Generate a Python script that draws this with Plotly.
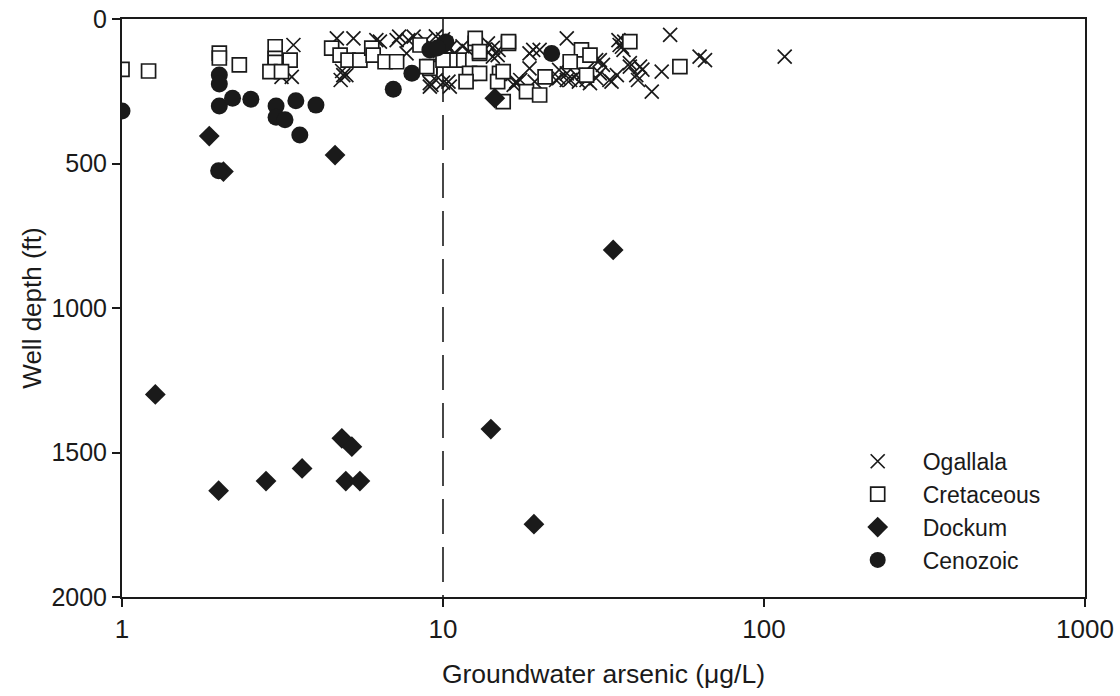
import plotly.graph_objects as go

# Ogallala (x = arsenic ug/L, y = depth ft)
ogallala_as = [3.42, 3.38, 3.14, 4.67, 5.26, 4.89, 4.85, 6.36, 7.17, 7.8, 9.2, 10.0,
               9.1, 10.5, 14.3, 16.9, 24.3, 35.2, 51, 63, 65.5, 116, 44.7, 48, 41.1, 40,
               41.8, 36.1, 36.5, 34.8, 33.5, 38.2, 31.5, 30, 30, 28, 26, 24.3, 23, 22.5,
               20, 18.6, 18.6, 16.9, 19.3, 14.9, 14.3, 9.5, 10.4, 13.8, 19.1, 17.4, 16.6,
               23, 24.9, 26.5, 28.7, 30.8, 33, 38.2, 40.5, 36.7, 35.5, 30.8, 27.3, 24.3,
               9.5, 10.0, 10.2, 10.5, 9.8, 10.8, 11.5, 12.0, 8.8, 9.3, 13.5, 14.8,
               6.2, 7.3, 8.1, 5.0, 4.8, 9.1, 7.7]
ogallala_depth = [90, 200, 200, 67, 67, 194, 180, 78, 73, 73, 228, 220,
                  234, 234, 100, 222, 67, 73, 55, 130, 142, 130, 251, 182, 165, 194,
                  175, 96, 107, 194, 217, 153, 159, 142, 205, 211, 194, 211, 176, 211,
                  107, 119, 171, 217, 217, 107, 130, 211, 217, 84, 107, 211, 228,
                  205, 211, 217, 222, 142, 211, 165, 211, 78, 90, 188, 188, 188,
                  60, 70, 85, 100, 110, 120, 95, 110, 75, 95, 105, 125,
                  73, 61, 61, 194, 211, 222, 119]

cretaceous_as = [1.0, 1.21, 2.01, 2.01, 2.32, 3.0, 3.0, 3.0, 3.34, 2.89, 4.5, 4.78, 5.06,
                 5.51, 6.0, 6.06, 6.6, 7.17, 8.48, 9.1, 9.1, 10.3, 11.2, 12.1, 13.0, 15.0,
                 12.6, 13.0, 16.0, 15.4, 11.8, 12.6, 16.0, 10.5, 13.0, 14.8, 20.8, 18.2,
                 20.0, 27.0, 24.9, 28.7, 28.0, 38.2, 54.7, 15.4, 3.14, 8.9, 10.0]
cretaceous_depth = [174, 180, 118, 135, 159, 96, 136, 150, 142, 182, 101, 125, 142,
                    142, 101, 125, 148, 148, 90, 165, 171, 142, 142, 188, 188, 188,
                    84, 119, 84, 286, 217, 67, 78, 142, 113, 217, 200, 251,
                    263, 107, 148, 125, 194, 78, 165, 182, 182, 165, 142]

dockum_as = [1.87, 2.07, 4.61, 33.9, 1.27, 4.84, 5.2, 14.1, 2.0, 2.81, 3.64, 4.98, 5.51,
             19.2, 14.5]
dockum_depth = [405, 528, 471, 799, 1299, 1451, 1480, 1419, 1632, 1599, 1555, 1599, 1599,
                1748, 274]

cenozoic_as = [1.0, 2.0, 2.01, 2.01, 2.01, 2.21, 2.52, 3.02, 3.02, 3.22, 3.48, 4.02, 3.58,
               7.0, 8.0, 9.1, 10.0, 10.2, 9.6, 21.8]
cenozoic_depth = [318, 525, 194, 225, 301, 274, 278, 301, 340, 349, 283, 298, 401,
                  243, 188, 107, 90, 80, 100, 119]

mcl = 10  # arsenic standard (ug/L)

INK = "#1a1a1a"
FONT = "Liberation Sans, Arial, sans-serif"

fig = go.Figure()
fig.add_trace(go.Scatter(x=ogallala_as, y=ogallala_depth, mode="markers", name="Ogallala",
                         marker=dict(symbol="x-thin", size=14, color=INK,
                                     line=dict(color=INK, width=1.7))))
fig.add_trace(go.Scatter(x=cretaceous_as, y=cretaceous_depth, mode="markers", name="Cretaceous",
                         marker=dict(symbol="square", size=14, color="white",
                                     line=dict(color=INK, width=1.7))))
fig.add_trace(go.Scatter(x=dockum_as, y=dockum_depth, mode="markers", name="Dockum",
                         marker=dict(symbol="diamond", size=16, color=INK,
                                     line=dict(color=INK, width=0))))
fig.add_trace(go.Scatter(x=cenozoic_as, y=cenozoic_depth, mode="markers", name="Cenozoic",
                         marker=dict(symbol="circle", size=17, color=INK,
                                     line=dict(color=INK, width=0))))

fig.add_shape(type="line", x0=mcl, x1=mcl, y0=0, y1=2000, xref="x", yref="y",
              line=dict(color=INK, width=1.6, dash="35px,13px"), layer="below")

fig.update_layout(
    width=1120, height=696,
    margin=dict(l=122, r=35, t=19, b=99, autoexpand=False),
    paper_bgcolor="white", plot_bgcolor="white",
    font=dict(family=FONT, size=24, color=INK),
    showlegend=True,
    legend=dict(x=0.738, y=0.272, xanchor="left", yanchor="top",
                bgcolor="rgba(0,0,0,0)", font=dict(size=23, color=INK),
                itemwidth=80, tracegroupgap=0),
)
fig.update_xaxes(type="log", range=[0, 3], tickvals=[1, 10, 100, 1000],
                 ticktext=["1", "10", "100", "1000"],
                 showgrid=False, zeroline=False, automargin=False,
                 ticklabeloverflow="allow",
                 showline=True, linecolor=INK, linewidth=2, mirror=True,
                 ticks="outside", ticklen=8, tickwidth=2, tickcolor=INK,
                 tickfont=dict(size=26),
                 title=dict(text="Groundwater arsenic (\u03bcg/L)",
                            font=dict(size=26.5), standoff=21))
fig.update_yaxes(range=[2000, 0], tickvals=[0, 500, 1000, 1500, 2000],
                 showgrid=False, zeroline=False, automargin=False,
                 ticklabeloverflow="allow",
                 showline=True, linecolor=INK, linewidth=2, mirror=True,
                 ticks="outside", ticklen=8, tickwidth=2, tickcolor=INK,
                 tickfont=dict(size=25),
                 title=dict(text="Well depth (ft)", font=dict(size=26), standoff=2))

fig.write_html("out.html", config={"displayModeBar": False},
               post_script="document.body.style.margin='0';")
